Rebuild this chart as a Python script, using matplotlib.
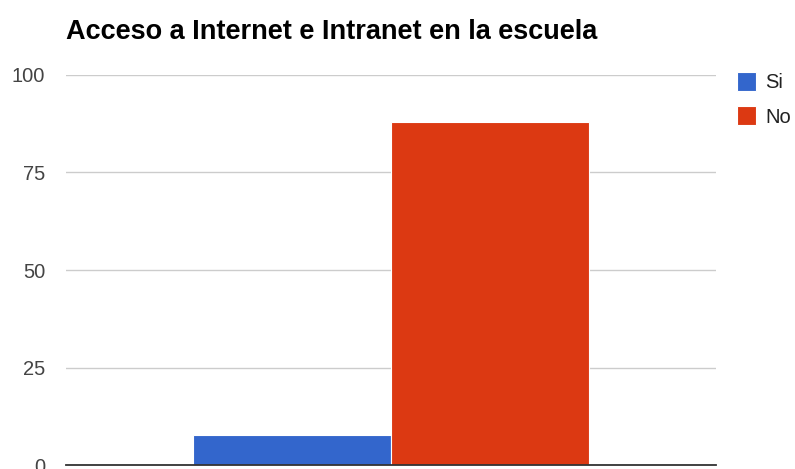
import matplotlib
matplotlib.use('Agg')
import matplotlib.pyplot as plt

plt.rcParams['font.family'] = ['Liberation Sans', 'DejaVu Sans']

title = 'Acceso a Internet e Intranet en la escuela'
series = ['Si', 'No']
values = [7.7, 88]
colors = ['#3366cc', '#dc3912']
yticks = [0, 25, 50, 75, 100]

fig = plt.figure(figsize=(7.95, 4.69), dpi=100)
ax = fig.add_axes([66 / 795, 4 / 469, 650 / 795, 390 / 469])

w = 0.3046
for i, (name, v, c) in enumerate(zip(series, values, colors)):
    ax.bar((i - 0.5) * w, v, width=w, color=c, label=name,
           edgecolor='white', linewidth=0.8, zorder=2)

ax.set_xlim(-0.5, 0.5)
ax.set_ylim(0, 100)
ax.set_yticks(yticks)
ax.set_xticks([])
ax.grid(axis='y', color='#cccccc', linewidth=1, zorder=0)
for s in ['top', 'right', 'left']:
    ax.spines[s].set_visible(False)
ax.spines['bottom'].set_color('#333333')
ax.spines['bottom'].set_linewidth(1.3)
ax.spines['bottom'].set_zorder(3)
ax.tick_params(axis='y', length=0, pad=15, labelsize=14.5, labelcolor='#444444')

fig.text(66 / 795, 1 - 39 / 469, title, fontsize=19.5, fontweight='bold',
         va='baseline', ha='left', color='#000000')

fig.legend(loc='upper left', bbox_to_anchor=(737 / 795, 1 - 72 / 469), frameon=False,
           fontsize=14.5, handlelength=0.95, handleheight=1.05, handletextpad=0.45,
           labelspacing=0.7, labelcolor='#222222', borderaxespad=0, borderpad=0)

fig.savefig('out.png', dpi=100)
